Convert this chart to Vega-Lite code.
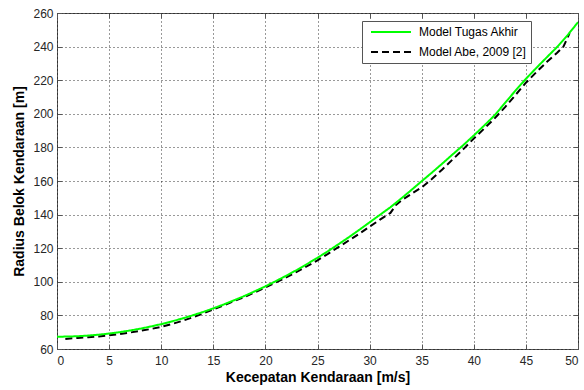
{
  "$schema": "https://vega.github.io/schema/vega-lite/v6.json",
  "width": 521,
  "height": 336,
  "autosize": "none",
  "padding": {"left": 57, "top": 13, "right": 6, "bottom": 41},
  "background": "white",
  "config": {
    "font": "Liberation Sans",
    "view": {"stroke": "#555555", "strokeWidth": 1},
    "axis": {
      "labelFont": "Liberation Sans",
      "labelFontSize": 12,
      "labelColor": "#262626",
      "titleFont": "Liberation Sans",
      "titleFontSize": 14,
      "titleFontWeight": "bold",
      "titleColor": "#000000",
      "domain": false,
      "tickColor": "#555555",
      "tickSize": -5,
      "gridColor": "#000000",
      "gridDash": [1, 3],
      "gridOpacity": 0.8,
      "gridWidth": 1
    },
    "legend": {
      "labelFont": "Liberation Sans",
      "labelFontSize": 12,
      "labelColor": "#000000"
    }
  },
  "data": {
    "values": [
      {"v": 0, "R": 67.3, "series": "Model Tugas Akhir"},
      {"v": 1, "R": 67.4, "series": "Model Tugas Akhir"},
      {"v": 2, "R": 67.6, "series": "Model Tugas Akhir"},
      {"v": 3, "R": 68.0, "series": "Model Tugas Akhir"},
      {"v": 4, "R": 68.5, "series": "Model Tugas Akhir"},
      {"v": 5, "R": 69.2, "series": "Model Tugas Akhir"},
      {"v": 6, "R": 70.0, "series": "Model Tugas Akhir"},
      {"v": 7, "R": 71.0, "series": "Model Tugas Akhir"},
      {"v": 8, "R": 72.1, "series": "Model Tugas Akhir"},
      {"v": 9, "R": 73.4, "series": "Model Tugas Akhir"},
      {"v": 10, "R": 74.8, "series": "Model Tugas Akhir"},
      {"v": 11, "R": 76.4, "series": "Model Tugas Akhir"},
      {"v": 12, "R": 78.1, "series": "Model Tugas Akhir"},
      {"v": 13, "R": 80.0, "series": "Model Tugas Akhir"},
      {"v": 14, "R": 82.0, "series": "Model Tugas Akhir"},
      {"v": 15, "R": 84.2, "series": "Model Tugas Akhir"},
      {"v": 16, "R": 86.5, "series": "Model Tugas Akhir"},
      {"v": 17, "R": 89.0, "series": "Model Tugas Akhir"},
      {"v": 18, "R": 91.6, "series": "Model Tugas Akhir"},
      {"v": 19, "R": 94.4, "series": "Model Tugas Akhir"},
      {"v": 20, "R": 97.3, "series": "Model Tugas Akhir"},
      {"v": 21, "R": 100.4, "series": "Model Tugas Akhir"},
      {"v": 22, "R": 103.6, "series": "Model Tugas Akhir"},
      {"v": 23, "R": 107.0, "series": "Model Tugas Akhir"},
      {"v": 24, "R": 110.6, "series": "Model Tugas Akhir"},
      {"v": 25, "R": 114.3, "series": "Model Tugas Akhir"},
      {"v": 26, "R": 118.2, "series": "Model Tugas Akhir"},
      {"v": 27, "R": 122.3, "series": "Model Tugas Akhir"},
      {"v": 28, "R": 126.5, "series": "Model Tugas Akhir"},
      {"v": 29, "R": 130.9, "series": "Model Tugas Akhir"},
      {"v": 30, "R": 135.4, "series": "Model Tugas Akhir"},
      {"v": 31, "R": 139.9, "series": "Model Tugas Akhir"},
      {"v": 32, "R": 144.4, "series": "Model Tugas Akhir"},
      {"v": 33, "R": 149.4, "series": "Model Tugas Akhir"},
      {"v": 34, "R": 154.6, "series": "Model Tugas Akhir"},
      {"v": 35, "R": 159.9, "series": "Model Tugas Akhir"},
      {"v": 36, "R": 165.1, "series": "Model Tugas Akhir"},
      {"v": 37, "R": 170.5, "series": "Model Tugas Akhir"},
      {"v": 38, "R": 176.0, "series": "Model Tugas Akhir"},
      {"v": 39, "R": 181.4, "series": "Model Tugas Akhir"},
      {"v": 40, "R": 187.1, "series": "Model Tugas Akhir"},
      {"v": 41, "R": 193.0, "series": "Model Tugas Akhir"},
      {"v": 42, "R": 199.1, "series": "Model Tugas Akhir"},
      {"v": 43, "R": 206.5, "series": "Model Tugas Akhir"},
      {"v": 44, "R": 213.8, "series": "Model Tugas Akhir"},
      {"v": 45, "R": 220.8, "series": "Model Tugas Akhir"},
      {"v": 46, "R": 227.3, "series": "Model Tugas Akhir"},
      {"v": 47, "R": 233.6, "series": "Model Tugas Akhir"},
      {"v": 48, "R": 239.8, "series": "Model Tugas Akhir"},
      {"v": 49, "R": 246.8, "series": "Model Tugas Akhir"},
      {"v": 50, "R": 254.5, "series": "Model Tugas Akhir"},
      {"v": 0.8, "R": 66.0, "series": "Model Abe, 2009 [2]"},
      {"v": 2, "R": 66.6, "series": "Model Abe, 2009 [2]"},
      {"v": 3, "R": 67.0, "series": "Model Abe, 2009 [2]"},
      {"v": 4, "R": 67.5, "series": "Model Abe, 2009 [2]"},
      {"v": 5, "R": 68.2, "series": "Model Abe, 2009 [2]"},
      {"v": 6, "R": 68.9, "series": "Model Abe, 2009 [2]"},
      {"v": 7, "R": 69.8, "series": "Model Abe, 2009 [2]"},
      {"v": 8, "R": 70.8, "series": "Model Abe, 2009 [2]"},
      {"v": 9, "R": 71.9, "series": "Model Abe, 2009 [2]"},
      {"v": 10, "R": 73.2, "series": "Model Abe, 2009 [2]"},
      {"v": 11, "R": 74.8, "series": "Model Abe, 2009 [2]"},
      {"v": 12, "R": 76.7, "series": "Model Abe, 2009 [2]"},
      {"v": 13, "R": 78.8, "series": "Model Abe, 2009 [2]"},
      {"v": 14, "R": 81.1, "series": "Model Abe, 2009 [2]"},
      {"v": 15, "R": 83.6, "series": "Model Abe, 2009 [2]"},
      {"v": 16, "R": 86.0, "series": "Model Abe, 2009 [2]"},
      {"v": 17, "R": 88.5, "series": "Model Abe, 2009 [2]"},
      {"v": 18, "R": 91.0, "series": "Model Abe, 2009 [2]"},
      {"v": 19, "R": 93.8, "series": "Model Abe, 2009 [2]"},
      {"v": 20, "R": 96.6, "series": "Model Abe, 2009 [2]"},
      {"v": 21, "R": 99.6, "series": "Model Abe, 2009 [2]"},
      {"v": 22, "R": 102.6, "series": "Model Abe, 2009 [2]"},
      {"v": 23, "R": 105.9, "series": "Model Abe, 2009 [2]"},
      {"v": 24, "R": 109.3, "series": "Model Abe, 2009 [2]"},
      {"v": 25, "R": 112.8, "series": "Model Abe, 2009 [2]"},
      {"v": 26, "R": 116.6, "series": "Model Abe, 2009 [2]"},
      {"v": 27, "R": 120.6, "series": "Model Abe, 2009 [2]"},
      {"v": 28, "R": 124.6, "series": "Model Abe, 2009 [2]"},
      {"v": 29, "R": 128.6, "series": "Model Abe, 2009 [2]"},
      {"v": 30, "R": 132.8, "series": "Model Abe, 2009 [2]"},
      {"v": 31, "R": 137.0, "series": "Model Abe, 2009 [2]"},
      {"v": 32, "R": 141.0, "series": "Model Abe, 2009 [2]"},
      {"v": 32.5, "R": 145.5, "series": "Model Abe, 2009 [2]"},
      {"v": 33, "R": 148.2, "series": "Model Abe, 2009 [2]"},
      {"v": 34, "R": 152.3, "series": "Model Abe, 2009 [2]"},
      {"v": 35, "R": 156.2, "series": "Model Abe, 2009 [2]"},
      {"v": 36, "R": 161.3, "series": "Model Abe, 2009 [2]"},
      {"v": 37, "R": 167.0, "series": "Model Abe, 2009 [2]"},
      {"v": 38, "R": 173.0, "series": "Model Abe, 2009 [2]"},
      {"v": 39, "R": 179.0, "series": "Model Abe, 2009 [2]"},
      {"v": 40, "R": 185.3, "series": "Model Abe, 2009 [2]"},
      {"v": 41, "R": 191.2, "series": "Model Abe, 2009 [2]"},
      {"v": 42, "R": 197.3, "series": "Model Abe, 2009 [2]"},
      {"v": 43, "R": 204.0, "series": "Model Abe, 2009 [2]"},
      {"v": 44, "R": 211.2, "series": "Model Abe, 2009 [2]"},
      {"v": 45, "R": 218.5, "series": "Model Abe, 2009 [2]"},
      {"v": 46, "R": 224.8, "series": "Model Abe, 2009 [2]"},
      {"v": 47, "R": 230.8, "series": "Model Abe, 2009 [2]"},
      {"v": 48, "R": 236.3, "series": "Model Abe, 2009 [2]"},
      {"v": 48.6, "R": 240.0, "series": "Model Abe, 2009 [2]"},
      {"v": 49.2, "R": 248.0, "series": "Model Abe, 2009 [2]"}
    ]
  },
  "layer": [
    {
      "transform": [{"filter": "datum.series === 'Model Abe, 2009 [2]'"}],
      "mark": {"type": "line", "strokeWidth": 2, "clip": true},
      "encoding": {
        "x": {
          "field": "v", "type": "quantitative",
          "scale": {"domain": [0, 50], "nice": false, "zero": false},
          "axis": {"orient": "bottom", "title": "Kecepatan Kendaraan [m/s]", "values": [0, 5, 10, 15, 20, 25, 30, 35, 40, 45, 50], "grid": true, "labelPadding": 11, "titlePadding": 4}
        },
        "y": {
          "field": "R", "type": "quantitative",
          "scale": {"domain": [60, 260], "nice": false, "zero": false},
          "axis": {"orient": "left", "title": "Radius Belok Kendaraan [m]", "values": [60, 80, 100, 120, 140, 160, 180, 200, 220, 240, 260], "grid": true, "labelPadding": 9, "titlePadding": 6}
        },
        "color": {
          "field": "series", "type": "nominal",
          "scale": {"domain": ["Model Tugas Akhir", "Model Abe, 2009 [2]"], "range": ["#00ff00", "#000000"]},
          "legend": {"title": null, "orient": "none", "legendX": 305, "legendY": 8, "padding": 4, "fillColor": "#ffffff", "strokeColor": "#555555", "symbolType": "stroke", "symbolSize": 1600, "symbolStrokeWidth": 2, "symbolOffset": 4, "clipHeight": 14, "rowPadding": 6, "labelOffset": 7}
        },
        "strokeDash": {
          "field": "series", "type": "nominal",
          "scale": {"domain": ["Model Tugas Akhir", "Model Abe, 2009 [2]"], "range": [[1, 0], [7, 4]]},
          "legend": {"title": null, "orient": "none", "legendX": 305, "legendY": 8, "padding": 4, "fillColor": "#ffffff", "strokeColor": "#555555", "symbolType": "stroke", "symbolSize": 1600, "symbolStrokeWidth": 2, "symbolOffset": 4, "clipHeight": 14, "rowPadding": 6, "labelOffset": 7}
        }
      }
    },
    {
      "transform": [{"filter": "datum.series === 'Model Tugas Akhir'"}],
      "mark": {"type": "line", "strokeWidth": 2, "clip": true},
      "encoding": {
        "x": {"field": "v", "type": "quantitative", "axis": null},
        "y": {"field": "R", "type": "quantitative", "axis": null},
        "color": {"field": "series", "type": "nominal"},
        "strokeDash": {"field": "series", "type": "nominal"}
      }
    },
    {
      "transform": [{"filter": "datum.series === 'Model Tugas Akhir'"}],
      "mark": {"type": "line", "opacity": 0},
      "encoding": {
        "x": {"field": "v", "type": "quantitative", "axis": {"orient": "top", "labels": false, "title": null, "grid": false, "values": [0, 5, 10, 15, 20, 25, 30, 35, 40, 45, 50]}},
        "y": {"field": "R", "type": "quantitative", "axis": {"orient": "right", "labels": false, "title": null, "grid": false, "values": [60, 80, 100, 120, 140, 160, 180, 200, 220, 240, 260]}}
      }
    }
  ],
  "resolve": {"axis": {"x": "independent", "y": "independent"}}
}
